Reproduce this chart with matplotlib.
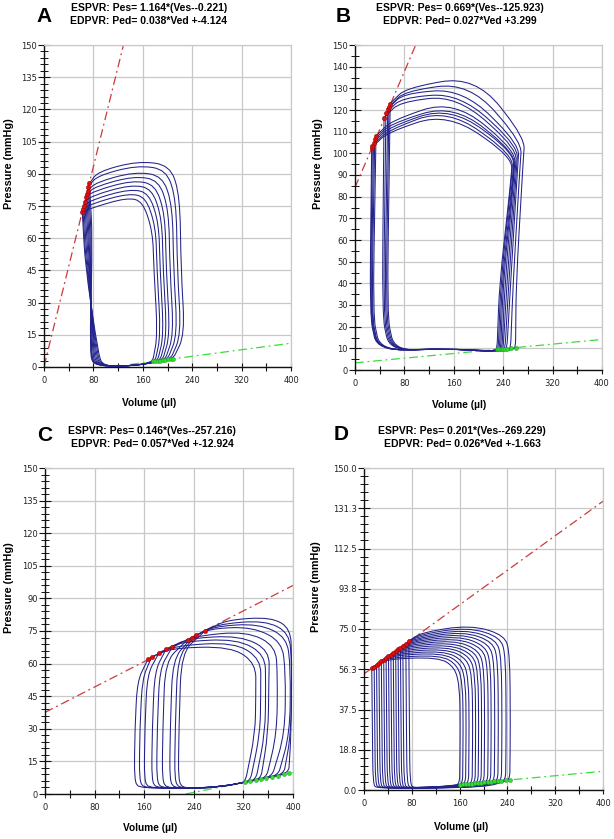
import matplotlib
matplotlib.use("Agg")
import matplotlib.pyplot as plt
from matplotlib.path import Path
from matplotlib.patches import PathPatch
from matplotlib.ticker import MultipleLocator, FixedLocator
import numpy as np

W, H = 614, 839

# ---- regression lines (from the panel headers) ----
espvr_slope = [1.164, 0.669, 0.146, 0.201]
espvr_v0 = [-0.221, -125.923, -257.216, -269.229]
edpvr_slope = [0.038, 0.027, 0.057, 0.026]
edpvr_icpt = [-4.124, 3.299, -12.924, -1.663]
edpvr_start = [140, 0, 226.7, 160]

titles = [
    ("ESPVR: Pes= 1.164*(Ves--0.221)", "EDPVR: Ped= 0.038*Ved +-4.124"),
    ("ESPVR: Pes= 0.669*(Ves--125.923)", "EDPVR: Ped= 0.027*Ved +3.299"),
    ("ESPVR: Pes= 0.146*(Ves--257.216)", "EDPVR: Ped= 0.057*Ved +-12.924"),
    ("ESPVR: Pes= 0.201*(Ves--269.229)", "EDPVR: Ped= 0.026*Ved +-1.663"),
]
letters = ["A", "B", "C", "D"]

x_ticks = [0, 80, 160, 240, 320, 400]
y_ticks_a = [0, 15, 30, 45, 60, 75, 90, 105, 120, 135, 150]
y_ticks_b = [0, 10, 20, 30, 40, 50, 60, 70, 80, 90, 100, 110, 120, 130, 140, 150]
y_ticks_d = [0, 18.75, 37.5, 56.25, 75, 93.75, 112.5, 131.25, 150]
y_labels_d = ["0.0", "18.8", "37.5", "56.3", "75.0", "93.8", "112.5", "131.3", "150.0"]

# ---- panel A loops (small -> large) ----
a_es_v = [62, 63, 64.5, 66, 67.5, 69, 70.5, 72, 73.5]
a_es_p = [72, 73.5, 75, 77, 79, 80.5, 82, 84, 85.5]
a_top_p = [79, 81, 83, 85, 87, 89, 91, 94, 96]
a_top_v = [135, 137, 139, 141, 143, 145, 147, 150, 152]
a_right_v = [178, 183, 188, 193, 198, 204, 210, 216, 222]
a_ed_v = [176, 180, 184, 188, 192, 196, 200, 205, 209]
a_ed_p = [2.6, 2.7, 2.9, 3.0, 3.2, 3.3, 3.5, 3.7, 3.8]
a_left_v = [88, 86, 84, 82, 80, 78, 76, 75, 74]

# ---- panel B loops ----
b_es_v = [27, 28, 30, 32, 34, 47, 50, 53, 55, 57]
b_es_p = [102.5, 103.5, 105, 106.5, 108, 116.5, 118.5, 120.5, 121.5, 123]
b_top_p = [119, 121, 122, 123, 125, 127, 128, 130, 133, 136]
b_top_v = [150, 150, 155, 160, 160, 165, 170, 175, 185, 195]
b_tr_v = [255, 256, 258, 259, 260, 262, 264, 266, 270, 275]
b_tr_p = [98, 99, 100, 100, 101, 102, 103, 104, 105, 107]
b_mid_v = [234, 236, 238, 240, 243, 246, 249, 252, 256, 261]
b_ed_v = [230, 232, 234, 236, 238, 240, 243, 246, 252, 260]
b_ed_p = [9.5, 9.6, 9.6, 9.7, 9.7, 9.8, 9.9, 9.9, 10.1, 10.3]
b_left_v = [24, 25, 26, 27, 29, 44, 46, 48, 50, 52]

# ---- panel C loops ----
c_es_v = [166, 172, 184, 195, 205, 230, 237, 243, 258]
c_es_p = [62, 63, 65, 66.5, 67.5, 71, 72, 73, 75]
c_top_p = [68, 70, 71.5, 73, 75, 77, 78.5, 80, 81.5]
c_top_v = [300, 305, 310, 315, 325, 335, 345, 355, 365]
c_tr_v = [340, 348, 355, 362, 372, 382, 390, 394, 396]
c_tr_p = [60, 62, 64, 66, 68, 70, 72, 74, 76]
c_right_v = [339, 347, 355, 360, 374, 387, 395, 397, 397]
c_ed_v = [323, 331, 340, 348, 357, 366, 376, 385, 393]
c_ed_p = [5.5, 6.0, 6.5, 6.9, 7.4, 8.0, 8.5, 9.0, 9.5]
c_left_v = [145, 153, 161, 173, 181, 190, 202, 210, 216]

# ---- panel D loops ----
d_es_v = [13, 17, 21, 25, 29, 33, 37, 41, 45, 49, 53, 57, 61, 65, 70, 75]
d_es_p = [56.8, 57.5, 58.4, 59.1, 59.9, 60.7, 61.5, 62.3, 63.1, 63.9, 64.7,
          65.5, 66.3, 67.2, 68.2, 69.2]
d_top_p = [62, 63, 64, 65, 66, 67, 68, 69, 70, 71, 72, 73, 74, 75, 76, 77]
d_top_v = [125, 128, 131, 134, 137, 140, 143, 146, 150, 154, 158, 162, 166,
           170, 174, 178]
d_ed_v = [160, 165, 170, 175, 181, 186, 191, 196, 201, 207, 212, 218, 224,
          230, 237, 244]
d_ed_p = [2.5, 2.6, 2.8, 2.9, 3.0, 3.2, 3.3, 3.4, 3.6, 3.7, 3.85, 4.0, 4.2,
          4.3, 4.5, 4.7]

LOOP_COLOR = "#22228a"
RED = "#cc3a3a"
GREEN = "#3ddc3d"
GRID = "#c8c8c8"


def rounded_path(pts):
    """closed path through key points, corners rounded by fraction r"""
    n = len(pts)
    verts, codes = [], []
    for i in range(n):
        v, p, r = pts[i]
        pv, pp, _ = pts[i - 1]
        nv, np_, _ = pts[(i + 1) % n]
        first = Path.MOVETO if i == 0 else Path.LINETO
        if r <= 0:
            verts.append((v, p))
            codes.append(first)
        else:
            verts += [(v + r * (pv - v), p + r * (pp - p)), (v, p),
                      (v + r * (nv - v), p + r * (np_ - p))]
            codes += [first, Path.CURVE3, Path.CURVE3]
    verts.append(verts[0])
    codes.append(Path.LINETO)
    return Path(verts, codes)


def loops_a(i):
    return [(a_ed_v[i], a_ed_p[i], 0.2),
            (a_right_v[i] + 6, 15, 0.45),
            (a_right_v[i], 45, 0.45),
            (a_right_v[i] - 2, a_top_p[i] - 16, 0.45),
            (a_right_v[i] - 18, a_top_p[i] - 2, 0.45),
            (a_top_v[i], a_top_p[i], 0.5),
            (a_es_v[i] + 14, a_top_p[i] - 5, 0.45),
            (a_es_v[i], a_es_p[i], 0),
            (a_es_v[i] + 5, a_es_p[i] - 25, 0.4),
            (a_left_v[i], 6, 0.4),
            (a_left_v[i] + 8, 0.3, 0.45),
            (150, 0.6, 0.45)]


def loops_b(i):
    return [(b_ed_v[i], b_ed_p[i], 0.15),
            (b_mid_v[i], 40, 0.4),
            (b_tr_v[i] - 3, b_tr_p[i] - 12, 0.4),
            (b_tr_v[i], b_tr_p[i], 0.4),
            (b_top_v[i], b_top_p[i], 0.5),
            (b_es_v[i] + 25, b_es_p[i] + 7, 0.4),
            (b_es_v[i], b_es_p[i], 0),
            (b_left_v[i], 25, 0.35),
            (b_left_v[i] + 12, 9, 0.4),
            (150, 9.8, 0.45),
            (b_ed_v[i] - 15, 8.6, 0.35)]


def loops_c(i):
    return [(c_ed_v[i], c_ed_p[i], 0.15),
            (c_right_v[i], 28, 0.45),
            (c_right_v[i] + 1, c_tr_p[i] - 14, 0.45),
            (c_tr_v[i], c_tr_p[i], 0.45),
            (c_top_v[i], c_top_p[i], 0.5),
            (c_es_v[i] + 35, c_es_p[i] + 5, 0.4),
            (c_es_v[i], c_es_p[i], 0),
            (c_left_v[i] + 4, c_es_p[i] - 10, 0.4),
            (c_left_v[i], 30, 0.45),
            (c_left_v[i] - 1, 6, 0.4),
            (c_left_v[i] + 8, 2.5, 0.4),
            (280, 3.0, 0.4)]


def loops_d(i):
    return [(d_ed_v[i], d_ed_p[i], 0.15),
            (d_ed_v[i] + 1, 30, 0.45),
            (d_ed_v[i], d_top_p[i] - 14, 0.45),
            (d_ed_v[i] - 8, d_top_p[i] - 5, 0.45),
            (d_top_v[i], d_top_p[i], 0.5),
            (d_es_v[i] + 20, d_es_p[i] + 4, 0.4),
            (d_es_v[i], d_es_p[i], 0),
            (d_es_v[i] + 1, 30, 0.45),
            (d_es_v[i] + 2, 2.5, 0.4),
            (d_es_v[i] + 10, 0.8, 0.4),
            (d_ed_v[i] - 40, 1.4, 0.4)]


panels = [
    dict(rect=(44, 45, 291, 367), builder=loops_a, n=len(a_es_v),
         es=(a_es_v, a_es_p), ed=(a_ed_v, a_ed_p),
         yt=y_ticks_a, yl=[str(t) for t in y_ticks_a], ymin=3),
    dict(rect=(355, 45, 602, 370), builder=loops_b, n=len(b_es_v),
         es=(b_es_v, b_es_p), ed=(b_ed_v, b_ed_p),
         yt=y_ticks_b, yl=[str(t) for t in y_ticks_b], ymin=5),
    dict(rect=(45, 468, 293, 794), builder=loops_c, n=len(c_es_v),
         es=(c_es_v, c_es_p), ed=(c_ed_v, c_ed_p),
         yt=y_ticks_a, yl=[str(t) for t in y_ticks_a], ymin=3),
    dict(rect=(364, 468, 603, 790), builder=loops_d, n=len(d_es_v),
         es=(d_es_v, d_es_p), ed=(d_ed_v, d_ed_p),
         yt=y_ticks_d, yl=y_labels_d, ymin=3.75),
]

# text positions in pixels
title_xy = [(149, 8, 21), (460, 8, 21), (152, 431, 444), (462, 431, 444)]
letter_xy = [(44, 16), (343, 16), (45, 435), (341, 434)]
xlabel_xy = [(149, 403), (459, 405), (150, 828), (461, 827)]
ylabel_xy = [(9, 164), (318, 164), (9, 588), (316, 587)]

fig = plt.figure(figsize=(W / 100, H / 100), dpi=100)
bold = dict(family=["Liberation Sans", "DejaVu Sans"], weight="bold")

for k, pn in enumerate(panels):
    l, t, r, b = pn["rect"]
    ax = fig.add_axes([l / W, 1 - b / H, (r - l) / W, (b - t) / H])
    ax.set_xlim(0, 400)
    ax.set_ylim(0, 150)

    # regression lines
    vv = np.array([0, 400])
    ax.plot(vv, espvr_slope[k] * (vv - espvr_v0[k]), color=RED, lw=0.9,
            ls=(0, (7, 3, 1.5, 3)), zorder=2)
    ve = np.array([edpvr_start[k], 400])
    ax.plot(ve, edpvr_slope[k] * ve + edpvr_icpt[k], color=GREEN, lw=0.9,
            ls=(0, (7, 3, 1.5, 3)), zorder=2)

    for i in range(pn["n"]):
        patch = PathPatch(rounded_path(pn["builder"](i)), fill=False,
                          edgecolor=LOOP_COLOR, lw=0.75, zorder=3)
        ax.add_patch(patch)

    ax.plot(pn["es"][0], pn["es"][1], "o", ms=3.0, mfc="#dd1010",
            mec="#a00000", mew=0.4, zorder=4)
    ax.plot(pn["ed"][0], pn["ed"][1], "o", ms=2.8, mfc="#33dd33",
            mec="#20a020", mew=0.4, zorder=4)

    # axes styling
    ax.xaxis.set_major_locator(FixedLocator(x_ticks))
    ax.xaxis.set_minor_locator(MultipleLocator(40))
    ax.set_yticks(pn["yt"])
    ax.set_yticklabels(pn["yl"])
    ax.yaxis.set_minor_locator(MultipleLocator(pn["ymin"]))
    ax.grid(True, which="major", color=GRID, lw=0.9, zorder=0)
    ax.set_axisbelow(True)
    for s in ("top", "right"):
        ax.spines[s].set_color(GRID)
        ax.spines[s].set_linewidth(0.9)
    for s in ("left", "bottom"):
        ax.spines[s].set_color("#111111")
        ax.spines[s].set_linewidth(1.0)
    ax.tick_params(axis="y", which="major", direction="inout", length=8.5,
                   width=0.8, pad=0.8, labelsize=6, labelcolor="#222222")
    ax.tick_params(axis="y", which="minor", direction="inout", length=5.5,
                   width=0.7)
    ax.tick_params(axis="x", which="both", direction="inout", length=6,
                   width=0.8, pad=3.5, labelsize=6, labelcolor="#222222")
    ax.tick_params(which="both", color="#111111")

    # texts
    tx, ty1, ty2 = title_xy[k]
    fig.text(tx / W, 1 - ty1 / H, titles[k][0], ha="center", va="center",
             fontsize=7.5, **bold)
    fig.text(tx / W, 1 - ty2 / H, titles[k][1], ha="center", va="center",
             fontsize=7.5, **bold)
    lx, ly = letter_xy[k]
    fig.text(lx / W, 1 - ly / H, letters[k], ha="center", va="center",
             fontsize=15, **bold)
    xx, xy = xlabel_xy[k]
    fig.text(xx / W, 1 - xy / H, "Volume (\u00b5l)", ha="center", va="center",
             fontsize=7.3, **bold)
    yx, yy = ylabel_xy[k]
    fig.text(yx / W, 1 - yy / H, "Pressure (mmHg)", ha="center", va="center",
             rotation=90, fontsize=7.8, **bold)

fig.savefig("out.png", dpi=100)
